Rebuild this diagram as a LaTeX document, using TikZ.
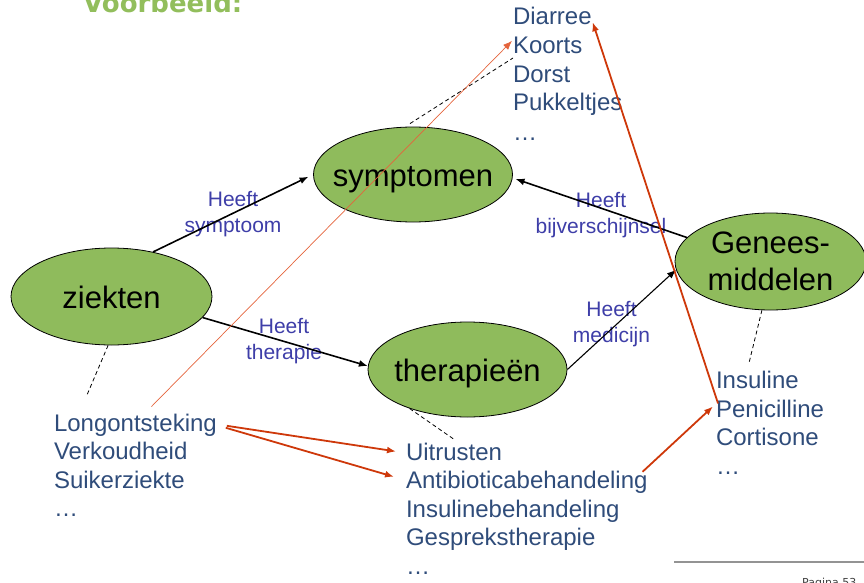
\documentclass[tikz,border=0pt]{standalone}
\usepackage{fontspec}
\setmainfont{Liberation Sans}
\newfontfamily\titlefont{DejaVu Sans}
\usetikzlibrary{arrows.meta,calc,shapes.geometric}
\definecolor{ovalgreen}{RGB}{143,187,92}
\definecolor{listblue}{RGB}{47,76,122}
\definecolor{lblblue}{RGB}{62,62,168}
\definecolor{arrred}{RGB}{206,56,10}
\definecolor{thinred}{RGB}{228,100,60}
\definecolor{titlegreen}{RGB}{146,190,92}
\tikzset{
  oval/.style={ellipse, draw=black, line width=0.8pt, fill=ovalgreen, inner sep=0pt,
    font=\fontsize{31}{37}\selectfont},
  oneline/.style={text height=28pt, text depth=4pt},
  listtxt/.style={anchor=base west, inner sep=0pt, outer sep=0pt, text=listblue,
    font=\fontsize{24}{28.8}\selectfont},
  rel/.style={anchor=north, inner sep=0pt, align=center, text=lblblue,
    font=\fontsize{21}{26}\selectfont},
  conn/.style={draw=black, line width=1.6pt, -{Latex[length=9pt,width=7pt]}},
  redarr/.style={draw=arrred, line width=1.8pt, -{Latex[length=9pt,width=7pt]}},
  thinarr/.style={draw=thinred, line width=0.7pt, -{Latex[length=9pt,width=7pt]}},
  dashline/.style={draw=black, line width=0.8pt, dash pattern=on 4pt off 3pt}
}
\begin{document}
\begin{tikzpicture}[x=1pt,y=-1pt]
\useasboundingbox (0,0) rectangle (864,583);
\clip (0,0) rectangle (864,583);

% title (cut off at top)
\node[anchor=base west, inner sep=0pt, text=titlegreen,
  font=\titlefont\bfseries\fontsize{26}{30}\selectfont] (title) at (83,12.5) {Voorbeeld:};

% ovals
\node[oval, oneline, minimum width=201pt, minimum height=97pt] (zk) at (111.5,296.5) {\makebox[0pt]{ziekten}};
\node[oval, oneline, minimum width=199pt, minimum height=95pt] (sy) at (413,174.5) {\makebox[0pt]{symptomen}};
\node[oval, oneline, minimum width=199pt, minimum height=95pt] (th) at (467.5,369.5) {\makebox[0pt]{therapieën}};
\node[oval, align=center, minimum width=191pt, minimum height=97pt] (gm) at (770.5,261.5) {\makebox[0pt]{Genees-}\\\makebox[0pt]{middelen}};

% lists
\node[listtxt] (d1) at (513,25) {Diarree};
\node[listtxt] (d2) at (513,54) {Koorts};
\node[listtxt] (d3) at (513,83) {Dorst};
\node[listtxt] (d4) at (513,111) {Pukkeltjes};
\node[listtxt] (d5) at (513,140) {…};

\node[listtxt] (z1) at (54,431) {Longontsteking};
\node[listtxt] (z2) at (54,459) {Verkoudheid};
\node[listtxt] (z3) at (54,488) {Suikerziekte};
\node[listtxt] (z4) at (54,516) {…};

\node[listtxt] (t1) at (406,460) {Uitrusten};
\node[listtxt] (t2) at (406,488) {Antibioticabehandeling};
\node[listtxt] (t3) at (406,517) {Insulinebehandeling};
\node[listtxt] (t4) at (406,545) {Gesprekstherapie};
\node[listtxt] (t5) at (406,574) {…};

\node[listtxt] (m1) at (716,388) {Insuline};
\node[listtxt] (m2) at (716,417) {Penicilline};
\node[listtxt] (m3) at (716,445) {Cortisone};
\node[listtxt] (m4) at (716,474) {…};

% relation labels
\node[rel] (l1) at (233,190.7) {Heeft\\symptoom};
\node[rel] (l2) at (284,317.7) {Heeft\\therapie};
\node[rel] (l3) at (601,191.7) {Heeft\\bijverschijnsel};
\node[rel] (l4) at (611.5,300.7) {Heeft\\medicijn};

% black connectors
\draw[conn, shorten >=5pt] (zk.47) -- (sy.180);
\draw[conn] (zk.-13) -- (th.178);
\draw[conn, line width=1.1pt] (th.0) -- (gm.185);
\draw[conn, shorten >=3pt] (gm.164) -- (sy.-2);

% dashed connectors
\coordinate (zkend) at (87,395);
\coordinate (syend) at (513,58);
\coordinate (thend) at (455,440);
\coordinate (gmend) at (749,363);
\draw[dashline] (zk.266) -- (zkend);
\draw[dashline] ($(sy.north)+(-3,-3)$) -- (syend);
\draw[dashline] (th.214) -- (thend);
\draw[dashline] (gm.260) -- (gmend);

% red arrows
\draw[thinarr] ($(z1.north)+(16,-7)$) -- ($(d2.west)+(-1,-5)$);
\draw[redarr] ($(z1.east)+(10,1)$) -- ($(t1.west)+(-10,0)$);
\draw[redarr] ($(z1.east)+(9,3)$) -- ($(t2.west)+(-12,-5)$);
\draw[redarr] ($(t2.east)+(-5,-10)$) -- ($(m2.west)+(-3,-2)$);
\draw[redarr] ($(m2.west)+(2,-5)$) -- ($(d1.south east)+(1,-3)$);

% footer
\coordinate (fl) at (674,562);
\coordinate (fr) at (864,562);
\draw[draw=gray!85, line width=1.5pt] (fl) -- (fr);
\node[anchor=north west, inner sep=0pt, text=black!75,
  font=\titlefont\fontsize{11}{13}\selectfont] (pg) at (802,578) {Pagina 53};
\end{tikzpicture}
\end{document}
